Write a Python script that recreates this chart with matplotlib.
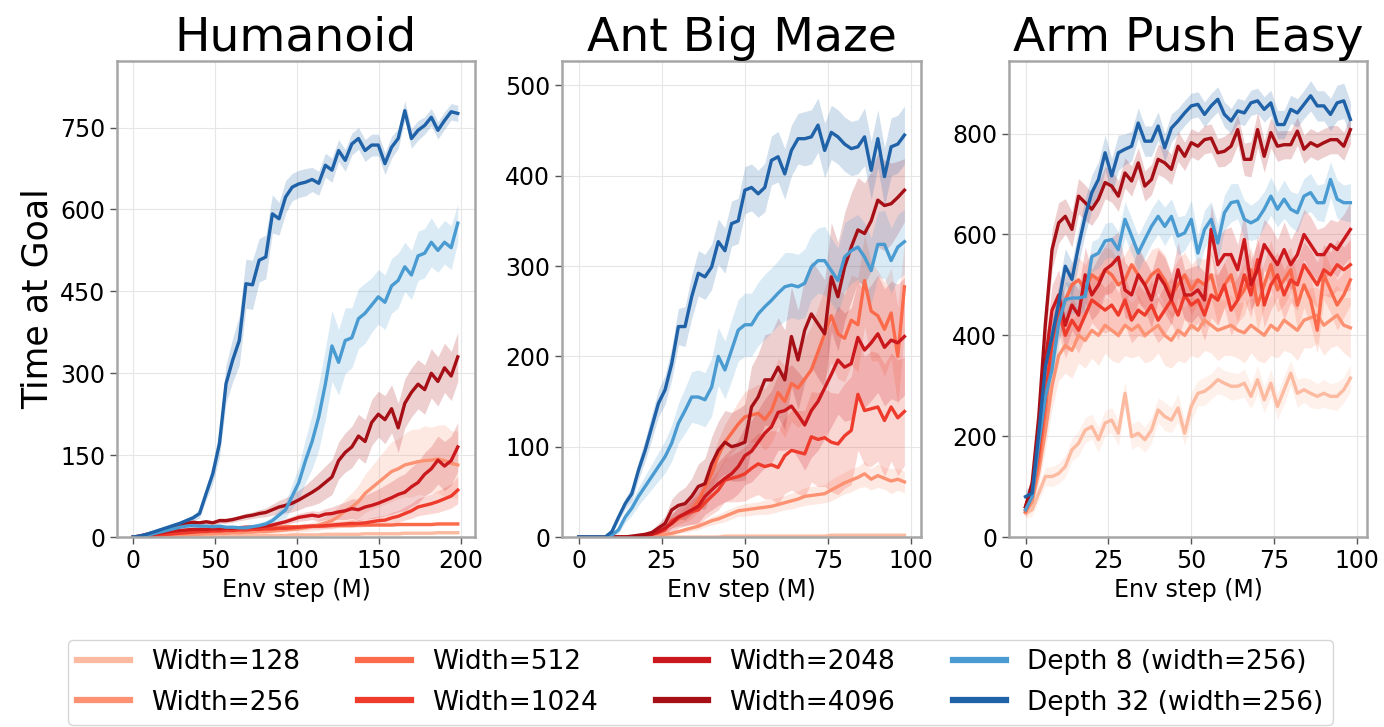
import numpy as np
import matplotlib.pyplot as plt
from matplotlib.lines import Line2D

labels = ['Width=128', 'Width=256', 'Width=512', 'Width=1024',
          'Width=2048', 'Width=4096', 'Depth 8 (width=256)', 'Depth 32 (width=256)']
colors = ['#fcbba1', '#fc9272', '#fb6a4a', '#ef3b2c',
          '#cb181d', '#a50f15', '#4a9bd1', '#1f62a8']

# ---------------- Humanoid (0..198 M steps) ----------------
hum_x = np.linspace(0, 198, 50)
hum_w128 = [0, 0, 0, 1, 1, 1, 1, 1, 2, 2, 2, 2, 2, 2, 2, 2, 3, 3, 3, 3,
            3, 3, 3, 3, 4, 4, 4, 4, 4, 5, 5, 5, 5, 5, 5, 6, 6, 6, 6, 6,
            6, 7, 7, 7, 7, 7, 8, 8, 8, 8]
hum_w128_sd = [0, 0, 0, 0, 0, 1, 1, 1, 1, 1, 1, 1, 1, 1, 1, 1, 1, 1, 1, 1,
               1, 1, 1, 1, 1, 1, 2, 2, 2, 2, 2, 2, 2, 2, 2, 2, 2, 2, 2, 2,
               3, 3, 3, 3, 3, 3, 3, 3, 3, 3]
hum_w256 = [0, 1, 1, 2, 2, 3, 3, 4, 4, 5, 5, 6, 6, 7, 7, 8, 8, 9, 9, 10,
            10, 11, 12, 13, 14, 15, 17, 19, 22, 26, 30, 38, 48, 55, 65, 80, 90, 100, 110, 120,
            125, 132, 135, 138, 140, 141, 143, 140, 135, 132]
hum_w256_sd = [0, 0, 0, 1, 1, 1, 1, 1, 1, 1, 1, 1, 2, 2, 2, 2, 2, 2, 2, 3,
               3, 3, 4, 4, 5, 6, 7, 8, 10, 12, 15, 18, 22, 26, 30, 35, 40, 45, 50, 55,
               55, 58, 62, 60, 64, 60, 62, 66, 60, 62]
hum_w512 = [0, 1, 2, 3, 4, 5, 6, 7, 8, 9, 10, 11, 12, 13, 14, 15, 16, 16, 17, 17,
            18, 18, 18, 19, 19, 19, 20, 20, 20, 20, 21, 21, 21, 21, 22, 22, 22, 22, 22, 22,
            23, 23, 23, 23, 23, 23, 24, 24, 24, 24]
hum_w512_sd = [0, 0, 1, 1, 1, 1, 1, 1, 1, 1, 1, 1, 1, 1, 2, 2, 2, 2, 2, 2,
               2, 2, 2, 2, 2, 2, 2, 2, 2, 2, 2, 2, 2, 2, 2, 2, 2, 2, 2, 2,
               3, 3, 3, 3, 3, 3, 3, 3, 3, 3]
hum_w1024 = [0, 1, 2, 3, 4, 5, 6, 7, 8, 9, 10, 10, 11, 11, 12, 12, 13, 13, 14, 14,
             15, 15, 16, 16, 17, 18, 19, 20, 20, 21, 22, 23, 24, 25, 25, 26, 28, 30, 31, 35,
             38, 43, 48, 55, 58, 61, 65, 70, 75, 86]
hum_w1024_sd = [0, 1, 1, 1, 1, 2, 2, 2, 2, 2, 3, 3, 3, 3, 3, 3, 3, 3, 3, 3,
                4, 4, 4, 4, 4, 5, 5, 5, 5, 5, 6, 6, 6, 7, 7, 7, 8, 8, 9, 10,
                11, 12, 14, 16, 17, 18, 20, 21, 22, 25]
hum_w2048 = [0, 1, 3, 5, 7, 9, 11, 12, 13, 14, 14, 14, 15, 15, 16, 16, 17, 18, 18, 19,
             20, 22, 25, 28, 32, 36, 38, 40, 38, 42, 43, 46, 48, 52, 50, 55, 58, 62, 67, 72,
             78, 82, 92, 100, 115, 125, 141, 130, 140, 165]
hum_w2048_sd = [0, 1, 1, 1, 2, 2, 2, 2, 3, 3, 3, 3, 3, 3, 3, 3, 4, 4, 4, 4,
                4, 5, 5, 6, 6, 7, 8, 8, 9, 10, 12, 14, 16, 18, 20, 22, 24, 26, 28, 30,
                32, 34, 36, 38, 40, 42, 44, 45, 45, 45]
hum_w4096 = [0, 2, 5, 8, 12, 15, 19, 22, 25, 27, 26, 28, 26, 30, 30, 32, 35, 38, 40, 43,
             45, 50, 55, 58, 62, 68, 75, 82, 90, 100, 110, 140, 155, 165, 185, 175, 210, 225, 215, 235,
             200, 245, 265, 280, 270, 300, 285, 310, 295, 330]
hum_w4096_sd = [0, 1, 1, 2, 2, 2, 3, 3, 3, 4, 4, 4, 4, 5, 5, 5, 5, 6, 6, 7,
                8, 10, 12, 14, 16, 18, 20, 24, 28, 30, 32, 34, 36, 38, 40, 40, 42, 42, 44, 44,
                45, 45, 45, 45, 45, 45, 45, 45, 45, 45]
hum_d8 = [0, 1, 3, 6, 9, 12, 15, 18, 20, 21, 20, 20, 19, 20, 18, 18, 17, 17, 19, 21,
          24, 30, 40, 50, 75, 100, 140, 175, 220, 280, 350, 320, 360, 365, 400, 410, 425, 440, 430, 460,
          470, 495, 480, 515, 520, 540, 525, 540, 530, 575]
hum_d8_sd = [0, 1, 1, 2, 2, 3, 3, 3, 3, 3, 3, 3, 3, 3, 3, 3, 3, 3, 4, 5,
             6, 8, 10, 15, 22, 30, 40, 50, 60, 65, 65, 60, 60, 55, 55, 55, 50, 50, 50, 50,
             50, 45, 45, 45, 45, 45, 40, 40, 40, 35]
hum_d32 = [0, 2, 5, 9, 13, 17, 21, 25, 30, 35, 43, 80, 116, 171, 281, 324, 360, 464, 462, 507,
           513, 592, 583, 623, 641, 647, 650, 655, 648, 681, 672, 708, 690, 720, 730, 708, 718, 718, 684, 714,
           730, 781, 730, 745, 754, 769, 745, 763, 779, 776]
hum_d32_sd = [0, 1, 2, 2, 3, 3, 4, 4, 5, 6, 8, 12, 18, 25, 35, 40, 45, 45, 45, 40,
              40, 35, 30, 30, 25, 25, 25, 22, 22, 22, 22, 20, 20, 20, 20, 20, 20, 20, 20, 20,
              18, 18, 18, 18, 16, 16, 16, 16, 15, 15]

# ---------------- Ant Big Maze (0..98 M steps) ----------------
ant_x = np.linspace(0, 98, 50)
ant_w128 = [0, 0, 0, 0, 0, 0, 0, 0, 0, 0, 0, 0, 0, 0, 0, 0, 0, 0, 0, 0,
            0, 0, 1, 1, 1, 1, 1, 1, 1, 1, 1, 1, 1, 1, 1, 1, 1, 1, 2, 2,
            2, 2, 2, 2, 2, 2, 2, 2, 2, 2]
ant_w128_sd = [0, 0, 0, 0, 0, 0, 0, 0, 0, 0, 0, 0, 0, 0, 0, 0, 0, 0, 0, 0,
               0, 0, 1, 1, 1, 1, 1, 1, 1, 1, 1, 1, 1, 1, 1, 1, 1, 1, 1, 1,
               1, 1, 1, 1, 1, 1, 1, 1, 1, 1]
ant_w256 = [0, 0, 0, 0, 0, 0, 0, 0, 0, 0, 1, 1, 2, 3, 4, 6, 8, 10, 12, 15,
            18, 20, 23, 26, 29, 30, 31, 32, 33, 34, 36, 38, 40, 42, 45, 46, 47, 48, 52, 56,
            60, 63, 66, 70, 64, 68, 65, 62, 64, 61]
ant_w256_sd = [0, 0, 0, 0, 0, 0, 0, 0, 0, 0, 1, 1, 1, 2, 2, 2, 3, 3, 4, 4,
               5, 5, 6, 6, 6, 7, 7, 7, 8, 8, 8, 8, 9, 9, 10, 10, 10, 10, 12, 12,
               12, 13, 12, 14, 12, 13, 12, 14, 12, 12]
ant_w512 = [0, 0, 0, 0, 0, 0, 0, 0, 0, 1, 2, 3,
            5, 10, 15, 20, 25, 30, 40, 55, 70, 90, 105, 115, 125, 133, 135, 137, 130, 140, 160, 150,
            170, 165, 175, 185, 205, 225, 245, 225, 220, 240, 235, 284, 250, 245, 230, 248, 200, 277]
ant_w512_sd = [0, 0, 0, 0, 0, 0, 0, 0, 0, 1, 1, 2, 3, 4, 5, 6, 8, 10, 12, 14,
               16, 18, 20, 22, 25, 28, 30, 32, 34, 36, 38, 40, 42, 44, 46, 48, 50, 50, 52, 50,
               48, 50, 52, 50, 55, 50, 52, 50, 55, 50]
ant_w1024 = [0, 0, 0, 0, 0, 0, 0, 0, 0, 1, 2, 3, 5,
             8, 18, 22, 25, 28, 30, 38, 45, 52, 63, 65, 67, 70, 76, 81, 78, 80, 77, 90, 96,
             94, 92, 111, 108, 110, 105, 103, 112, 118, 158, 140, 142, 144, 129, 144, 132, 139]
ant_w1024_sd = [0, 0, 0, 0, 0, 0, 0, 0, 0, 1, 2, 3, 4, 6, 8, 10, 12, 14, 16, 18,
                20, 22, 24, 26, 28, 30, 32, 34, 36, 38, 40, 42, 44, 46, 48, 50, 52, 54, 55, 56,
                58, 60, 62, 60, 64, 60, 62, 60, 64, 60]
ant_w2048 = [0, 0, 0, 0, 0, 0, 0, 0, 0, 1, 2, 3, 6,
             10, 15, 22, 26, 30, 34, 45, 52, 59, 65, 70, 78, 90, 95, 105, 115, 122, 138, 140, 145,
             135, 124, 140, 150, 165, 180, 196, 188, 192, 221, 207, 215, 225, 210, 218, 215, 222]
ant_w2048_sd = [0, 0, 0, 0, 0, 0, 0, 0, 0, 1, 2, 3, 5, 8, 10, 12, 14, 16, 18, 20,
                22, 24, 26, 28, 30, 32, 34, 36, 38, 40, 42, 44, 46, 48, 50, 52, 54, 56, 58, 60,
                60, 62, 62, 64, 64, 65, 65, 65, 65, 65]
ant_w4096 = [0, 0, 0, 0, 0, 0, 0, 0, 1, 2,
             3, 5, 10, 15, 30, 35, 37, 45, 56, 59, 81, 96, 105, 100, 102, 105, 144, 155, 174, 174,
             188, 174, 222, 196, 229, 247, 236, 225, 288, 266, 299, 321, 340, 336, 350, 373, 367, 369, 376, 384]
ant_w4096_sd = [0, 0, 0, 0, 0, 0, 0, 0, 1, 1, 2, 3, 5, 8, 12, 15, 18, 20, 25, 28,
                30, 32, 35, 38, 40, 42, 45, 48, 50, 52, 55, 55, 55, 55, 58, 58, 60, 60, 60, 60,
                60, 60, 58, 56, 55, 52, 50, 45, 40, 35]
ant_d8 = [0, 0, 0, 0, 0, 2, 8, 22, 32, 45, 56, 67, 78, 89, 104, 126, 140, 155, 155, 152,
          166, 200, 185, 207, 229, 235, 235, 247, 255, 262, 270, 277, 279, 277, 281, 299, 306, 306, 295, 284,
          310, 317, 321, 310, 295, 324, 324, 306, 321, 327]
ant_d8_sd = [0, 0, 0, 0, 0, 2, 4, 6, 8, 10, 12, 14, 16, 18, 20, 22, 25, 28, 30, 30,
             32, 32, 32, 34, 34, 35, 35, 35, 36, 36, 36, 38, 36, 36, 38, 36, 36, 38, 36, 36,
             38, 36, 36, 38, 36, 36, 38, 36, 36, 36]
ant_d32 = [0, 0, 0, 0, 0, 6, 22, 37, 48, 74, 96, 122, 148, 163, 192, 233, 233, 266, 292, 288,
           299, 327, 317, 347, 350, 384, 387, 380, 387, 417, 421, 402, 428, 441, 441, 443, 456, 428, 448, 443,
           435, 430, 432, 443, 406, 441, 399, 432, 435, 445]
ant_d32_sd = [0, 0, 0, 0, 0, 2, 4, 6, 8, 10, 12, 14, 15, 16, 18, 20, 22, 24, 25, 25,
              25, 25, 25, 25, 25, 26, 26, 26, 27, 27, 28, 28, 28, 28, 30, 30, 30, 30, 30, 30,
              30, 30, 30, 32, 32, 32, 32, 32, 32, 32]

# ---------------- Arm Push Easy (0..98 M steps) ----------------
arm_x = np.linspace(0, 98, 50)
arm_w128 = [47, 54, 87, 120, 120, 126, 140, 173, 186, 212, 219, 193, 226, 232, 206, 285, 199, 206, 193, 212,
            252, 239, 232, 256, 206, 259, 285, 289, 299, 312, 305, 299, 299, 305, 279, 312, 272, 305, 259, 292,
            325, 285, 292, 285, 279, 285, 279, 279, 292, 315]
arm_w128_sd = [10, 12, 15, 18, 20, 20, 22, 22, 25, 25, 25, 25, 25, 25, 25, 25, 25, 25, 25, 25,
               25, 28, 25, 28, 25, 28, 25, 28, 25, 28, 25, 28, 25, 28, 25, 28, 25, 28, 25, 28,
               25, 28, 25, 28, 25, 28, 25, 28, 25, 28]
arm_w256 = [50, 70, 130, 210, 300, 360, 380, 370, 400, 390, 410, 400, 420, 410, 400, 420, 410, 420, 400, 410,
            420, 400, 390, 410, 400, 420, 410, 430, 420, 410, 415, 420, 410, 405, 420, 410, 400, 420, 410, 430,
            420, 410, 430, 435, 440, 420, 430, 440, 420, 415]
arm_w256_sd = [10, 15, 25, 35, 45, 50, 55, 55, 55, 55, 55, 60, 55, 60, 55, 60, 55, 60, 55, 60,
               55, 60, 55, 60, 55, 60, 55, 60, 55, 60, 55, 60, 55, 60, 55, 60, 55, 60, 55, 60,
               55, 60, 55, 60, 55, 60, 55, 60, 55, 60]
arm_w512 = [50, 80, 150, 250, 380, 440, 470, 500, 510, 490, 520, 510, 530, 520, 500, 510, 540, 520, 500, 520,
            530, 510, 480, 500, 520, 490, 510, 500, 520, 470, 500, 520, 470, 490, 530, 460, 500, 540, 490, 510,
            530, 460, 500, 470, 410, 520, 490, 460, 480, 510]
arm_w512_sd = [10, 15, 25, 35, 40, 45, 45, 45, 45, 50, 45, 50, 45, 50, 45, 50, 45, 50, 45, 50,
               45, 50, 45, 50, 45, 50, 45, 50, 45, 50, 45, 50, 45, 50, 45, 50, 45, 50, 45, 50,
               45, 50, 45, 50, 45, 50, 45, 50, 45, 50]
arm_w1024 = [55, 90, 170, 280, 390, 450, 400, 430, 410, 440, 470, 460, 450, 460, 440, 470, 430, 450, 440, 460,
             430, 450, 470, 440, 480, 460, 470, 440, 480, 470, 500, 450, 470, 520, 480, 550, 460, 500, 520, 480,
             510, 500, 540, 520, 500, 530, 520, 540, 530, 540]
arm_w1024_sd = [10, 15, 25, 35, 45, 45, 45, 45, 45, 45, 45, 50, 45, 50, 45, 50, 45, 50, 45, 50,
                45, 50, 45, 50, 45, 50, 45, 50, 45, 50, 45, 50, 45, 50, 45, 50, 45, 50, 45, 50,
                45, 50, 45, 50, 45, 50, 45, 50, 45, 50]
arm_w2048 = [60, 100, 200, 350, 450, 480, 420, 460, 440, 520, 480, 500, 530, 540, 555, 490, 480, 520, 500, 470,
             520, 500, 470, 530, 480, 480, 490, 470, 610, 540, 560, 560, 530, 590, 500, 530, 580, 560, 540, 570,
             540, 560, 600, 580, 560, 560, 580, 570, 590, 610]
arm_w2048_sd = [10, 20, 30, 40, 50, 50, 50, 50, 50, 55, 50, 55, 50, 55, 50, 55, 50, 55, 50, 55,
                50, 55, 50, 55, 50, 55, 50, 55, 50, 55, 50, 55, 50, 55, 50, 55, 50, 55, 50, 55,
                50, 55, 50, 55, 50, 55, 50, 55, 50, 55]
arm_w4096 = [60, 107, 239, 424, 570, 623, 636, 610, 676, 663, 650, 670, 703, 696, 676, 722, 706, 742, 696, 709,
             749, 742, 729, 775, 755, 782, 775, 788, 791, 762, 765, 775, 808, 749, 749, 808, 755, 802, 775, 778,
             778, 805, 769, 782, 775, 782, 788, 788, 775, 808]
arm_w4096_sd = [15, 20, 30, 40, 40, 40, 35, 35, 35, 35, 32, 32, 32, 32, 30, 30, 30, 30, 30, 30,
                30, 30, 30, 30, 28, 28, 28, 28, 28, 28, 30, 30, 30, 32, 35, 35, 32, 30, 30, 28,
                28, 28, 28, 28, 28, 28, 28, 28, 28, 28]
arm_d8 = [54, 80, 186, 279, 332, 424, 471, 474, 474, 477, 556, 563, 587, 590, 570, 630, 597, 563, 590, 616,
          636, 616, 636, 597, 603, 630, 563, 610, 630, 583, 643, 663, 666, 630, 623, 630, 650, 676, 650, 670,
          650, 643, 676, 683, 663, 663, 709, 670, 663, 663]
arm_d8_sd = [10, 15, 25, 35, 40, 40, 35, 30, 30, 30, 30, 30, 35, 35, 35, 35, 35, 35, 35, 35,
             35, 38, 35, 38, 35, 38, 35, 38, 35, 38, 35, 38, 35, 38, 35, 38, 35, 38, 35, 38,
             35, 38, 35, 38, 35, 38, 35, 38, 35, 38]
arm_d32 = [80, 87, 206, 338, 398, 464, 537, 511, 577, 636, 683, 709, 762, 716, 762, 769, 775, 821, 785, 785,
           815, 772, 811, 825, 841, 855, 858, 838, 855, 868, 838, 825, 845, 841, 861, 865, 848, 861, 818, 818,
           848, 841, 858, 875, 855, 855, 838, 861, 865, 828]
arm_d32_sd = [15, 15, 20, 25, 30, 35, 35, 35, 35, 35, 35, 35, 35, 35, 35, 30, 30, 30, 30, 30,
              28, 28, 28, 25, 25, 25, 25, 25, 25, 25, 25, 25, 25, 25, 25, 25, 25, 25, 28, 28,
              28, 28, 28, 30, 30, 30, 32, 35, 35, 35]

hum_series = [hum_w128, hum_w256, hum_w512, hum_w1024, hum_w2048, hum_w4096, hum_d8, hum_d32]
hum_bands = [hum_w128_sd, hum_w256_sd, hum_w512_sd, hum_w1024_sd, hum_w2048_sd, hum_w4096_sd, hum_d8_sd, hum_d32_sd]
ant_series = [ant_w128, ant_w256, ant_w512, ant_w1024, ant_w2048, ant_w4096, ant_d8, ant_d32]
ant_bands = [ant_w128_sd, ant_w256_sd, ant_w512_sd, ant_w1024_sd, ant_w2048_sd, ant_w4096_sd, ant_d8_sd, ant_d32_sd]
arm_series = [arm_w128, arm_w256, arm_w512, arm_w1024, arm_w2048, arm_w4096, arm_d8, arm_d32]
arm_bands = [arm_w128_sd, arm_w256_sd, arm_w512_sd, arm_w1024_sd, arm_w2048_sd, arm_w4096_sd, arm_d8_sd, arm_d32_sd]


def draw_panel(ax, x, series, bands, title, xticks, xlim, yticks, ylim):
    '''One environment: mean curves with shaded spread'''
    for y, sd, c in zip(series, bands, colors):
        y = np.array(y, dtype=float)
        sd = np.array(sd, dtype=float)
        ax.fill_between(x, y - sd, y + sd, color=c, alpha=0.2, linewidth=0)
        ax.plot(x, y, color=c, lw=2.4)
    ax.set_title(title, fontsize=34, pad=4)
    ax.set_xticks(xticks)
    ax.set_yticks(yticks)
    ax.set_xlim(*xlim)
    ax.set_ylim(*ylim)
    ax.set_xlabel('Env step (M)', fontsize=17)
    ax.grid(color='#e6e6e6', lw=0.8)
    ax.set_axisbelow(True)
    ax.tick_params(labelsize=17, length=5, width=1, color='#555555')
    for s in ax.spines.values():
        s.set_color('#a6a6a6')
        s.set_linewidth(1.8)


fig = plt.figure(figsize=(13.84, 7.27), dpi=100)
ax1 = fig.add_axes([0.0845, 0.2613, 0.2587, 0.6548])
ax2 = fig.add_axes([0.4061, 0.2613, 0.2594, 0.6548])
ax3 = fig.add_axes([0.7290, 0.2613, 0.2587, 0.6548])

draw_panel(ax1, hum_x, hum_series, hum_bands, 'Humanoid',
           [0, 50, 100, 150, 200], (-10, 208.5), [0, 150, 300, 450, 600, 750], (0, 872))
draw_panel(ax2, ant_x, ant_series, ant_bands, 'Ant Big Maze',
           [0, 25, 50, 75, 100], (-5, 103), [0, 100, 200, 300, 400, 500], (0, 527))
draw_panel(ax3, arm_x, arm_series, arm_bands, 'Arm Push Easy',
           [0, 25, 50, 75, 100], (-5, 103), [0, 200, 400, 600, 800], (0, 944))
ax1.set_ylabel('Time at Goal', fontsize=25)

handles = [Line2D([], [], color=c, lw=4.5) for c in colors]
fig.legend(handles, labels, loc='upper left', bbox_to_anchor=(0.049, 0.0, 0.914, 0.12),
           mode='expand', ncol=4, fontsize=19, handlelength=2.0, handletextpad=0.8,
           borderpad=0.35, labelspacing=0.55, borderaxespad=0.0,
           edgecolor='#cccccc', fancybox=True)

plt.savefig('out.png', dpi=100)
